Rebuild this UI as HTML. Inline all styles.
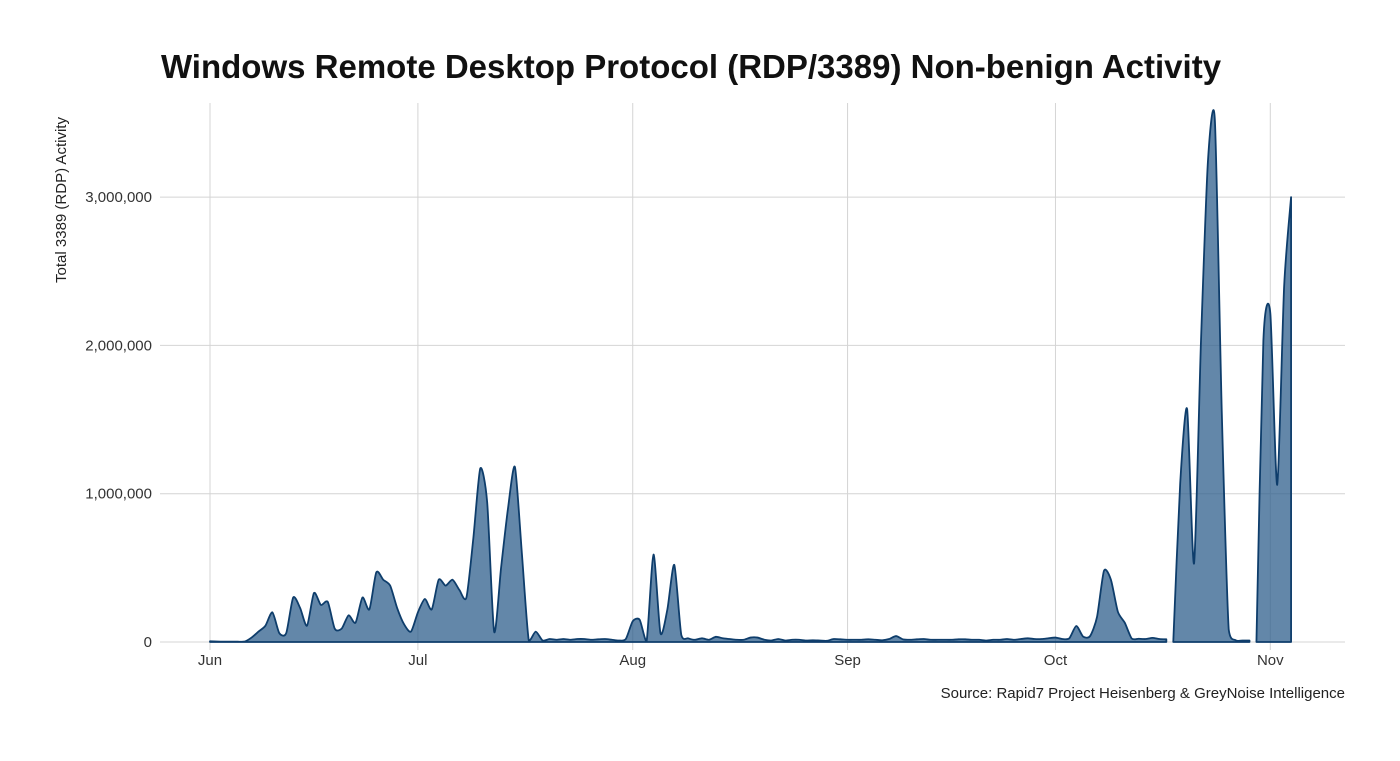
<!DOCTYPE html>
<html><head><meta charset="utf-8">
<style>
html,body{margin:0;padding:0;background:#fff;}
svg text{font-family:"Liberation Sans",sans-serif;}
</style></head>
<body>
<svg id="chart" width="1400" height="756" viewBox="0 0 1400 756" xmlns="http://www.w3.org/2000/svg">
<text x="691" y="78" text-anchor="middle" font-size="33" font-weight="bold" fill="#111">Windows Remote Desktop Protocol (RDP/3389) Non-benign Activity</text>
<text transform="translate(66,200) rotate(-90)" text-anchor="middle" font-size="15" fill="#222">Total 3389 (RDP) Activity</text>
<text x="1345" y="698" text-anchor="end" font-size="15" fill="#222">Source: Rapid7 Project Heisenberg &amp; GreyNoise Intelligence</text>
<g id="grid"></g>
<g id="marks"></g>
<g id="axes"></g>
</svg>
<script>
const yTicks = [0, 1000000, 2000000, 3000000];
const yTickLabels = ["0", "1,000,000", "2,000,000", "3,000,000"];
const xTickDays = [0, 30, 61, 92, 122, 153];
const xTickLabels = ["Jun", "Jul", "Aug", "Sep", "Oct", "Nov"];
// day index from Jun 1; values in thousands (null = gap)
const dailyValues = [
5,3,2,2,2,3,30,70,110,200,60,60,300,230,110,330,250,270,90,90,
180,130,300,220,470,420,380,230,120,70,200,290,220,420,380,420,350,300,700,1170,
940,70,500,900,1180,600,10,70,10,20,15,20,15,20,20,15,18,20,15,10,
20,140,150,5,590,60,220,520,50,25,15,25,15,35,25,20,15,15,30,30,
15,10,20,10,15,15,10,12,10,8,20,18,15,15,15,18,15,12,20,40,
18,15,18,20,15,15,15,15,18,18,15,15,10,15,15,20,15,20,25,20,
20,25,30,20,25,108,36,40,170,480,420,205,130,24,22,20,28,20,18,0,
1070,1570,530,2030,3240,3520,1550,84,12,10,10,0,2030,2220,1060,2400,3000
];
const gapDays = [138.5, 150.5];
const days = [], values = [];
dailyValues.forEach((v, d) => {
  gapDays.forEach(g => { if (g > d - 1 && g < d) { days.push(g); values.push(null); } });
  days.push(d); values.push(v);
});
const X0 = 210, PXD = 6.93;
const Y0 = 642, PXM = 148.3;
const xs = d => X0 + d * PXD;
const ys = v => Y0 - v / 1000000 * PXM;
const NS = "http://www.w3.org/2000/svg";
const grid = document.getElementById('grid');
const axes = document.getElementById('axes');
const marks = document.getElementById('marks');
yTicks.forEach((t, i) => {
  const l = document.createElementNS(NS, 'line');
  
  
  l.setAttribute('x1', 160); l.setAttribute('x2', 1345);
  l.setAttribute('y1', ys(t)); l.setAttribute('y2', ys(t));
  l.setAttribute('stroke', '#d4d4d4'); l.setAttribute('stroke-width', '1');
  grid.appendChild(l);
  const tx = document.createElementNS(NS, 'text');
  
  
  tx.setAttribute('x', 152); tx.setAttribute('y', ys(t) + 5);
  tx.setAttribute('text-anchor', 'end'); tx.setAttribute('font-size', '15'); tx.setAttribute('fill', '#333');
  tx.textContent = yTickLabels[i];
  axes.appendChild(tx);
});
xTickDays.forEach((d, i) => {
  const l = document.createElementNS(NS, 'line');
  
  
  l.setAttribute('x1', xs(d)); l.setAttribute('x2', xs(d));
  l.setAttribute('y1', 103); l.setAttribute('y2', 650);
  l.setAttribute('stroke', '#d4d4d4'); l.setAttribute('stroke-width', '1');
  grid.appendChild(l);
  const tx = document.createElementNS(NS, 'text');
  
  
  tx.setAttribute('x', xs(d)); tx.setAttribute('y', 665);
  tx.setAttribute('text-anchor', 'middle'); tx.setAttribute('font-size', '15'); tx.setAttribute('fill', '#333');
  tx.textContent = xTickLabels[i];
  axes.appendChild(tx);
});
const segs = []; let cur = [];
days.forEach((d, i) => {
  const v = values[i];
  if (v === null || v === undefined) { if (cur.length) segs.push(cur); cur = []; }
  else cur.push([xs(d), ys(v * 1000)]);
});
if (cur.length) segs.push(cur);
function smooth(p) {
  let s = `M${p[0][0]},${p[0][1]}`;
  for (let i = 0; i < p.length - 1; i++) {
    const p0 = p[Math.max(0, i - 1)], p1 = p[i], p2 = p[i + 1], p3 = p[Math.min(p.length - 1, i + 2)];
    const k = 0.12;
    const c1x = p1[0] + (p2[0] - p0[0]) * k, c1y = Math.min(Y0, p1[1] + (p2[1] - p0[1]) * k);
    const c2x = p2[0] - (p3[0] - p1[0]) * k, c2y = Math.min(Y0, p2[1] - (p3[1] - p1[1]) * k);
    s += ` C${c1x},${c1y} ${c2x},${c2y} ${p2[0]},${p2[1]}`;
  }
  return s;
}
segs.forEach(p => {
  const line = smooth(p);
  const area = document.createElementNS(NS, 'path');
  
  
  area.setAttribute('d', line + ` L${p[p.length-1][0]},${Y0} L${p[0][0]},${Y0} Z`);
  area.setAttribute('fill', '#2f5f8c'); area.setAttribute('fill-opacity', '0.75');
  area.setAttribute('stroke', '#0e3d6b'); area.setAttribute('stroke-width', '1.8');
  area.setAttribute('stroke-linejoin', 'round');
  marks.appendChild(area);
});
</script>
</body></html>
